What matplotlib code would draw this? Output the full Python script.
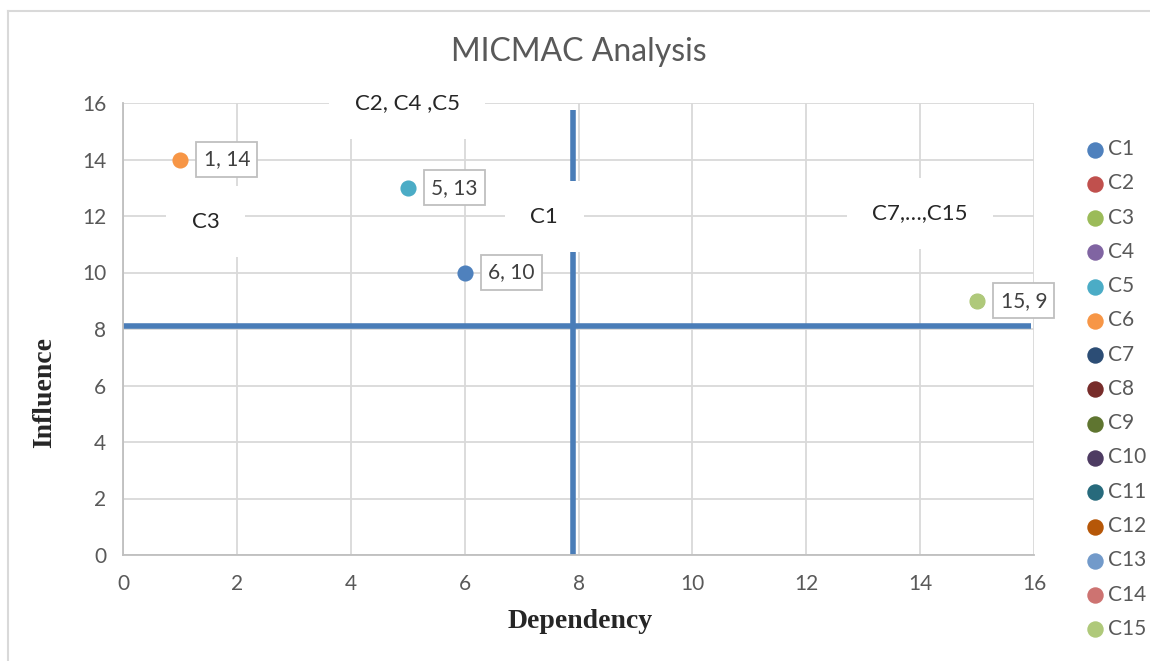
import matplotlib
matplotlib.use("Agg")
import matplotlib.pyplot as plt
from matplotlib.lines import Line2D

# ---- data ----
series = ["C1", "C2", "C3", "C4", "C5", "C6", "C7", "C8", "C9", "C10",
          "C11", "C12", "C13", "C14", "C15"]
dependency = [6, 5, 1, 5, 5, 1, 15, 15, 15, 15, 15, 15, 15, 15, 15]
influence = [10, 13, 14, 13, 13, 14, 9, 9, 9, 9, 9, 9, 9, 9, 9]
colors = ["#4F81BD", "#C0504D", "#9BBB59", "#8064A2", "#4BACC6", "#F79646",
          "#2C4D75", "#772C2A", "#5F7530", "#4D3B62", "#276A7C", "#B65708",
          "#729ACA", "#CD7371", "#AFC97A"]
x_ticks = [0, 2, 4, 6, 8, 10, 12, 14, 16]
y_ticks = [0, 2, 4, 6, 8, 10, 12, 14, 16]
x_split = 7.9
y_split = 8.1
x_split_end = 15.95
y_split_end = 15.75
quadrant_labels = ["C2, C4 ,C5", "C3", "C1", "C7,\u2026,C15"]
quadrant_pos = [(4.99, 16.0), (1.45, 11.8), (7.4, 11.97), (14.0, 12.1)]

W, H = 1150, 661
fig = plt.figure(figsize=(W / 100, H / 100), dpi=100)
fig.patch.set_facecolor("white")

# outer chart frame (top and left edges visible)
fig.add_artist(Line2D([8 / W, 1.0], [1 - 11 / H, 1 - 11 / H], color="#D9D9D9", lw=1.5,
                      transform=fig.transFigure))
fig.add_artist(Line2D([8 / W, 8 / W], [0, 1 - 11 / H], color="#D9D9D9", lw=1.5,
                      transform=fig.transFigure))

ax = fig.add_axes([123 / W, (H - 555) / H, (1034 - 123) / W, (555 - 103) / H])
ax.set_xlim(0, 16)
ax.set_ylim(0, 16)
ax.set_xticks(x_ticks)
ax.set_yticks(y_ticks)
ax.grid(True, color="#D9D9D9", lw=1.3, zorder=0)
ax.set_axisbelow(True)
for s in ["top", "right"]:
    ax.spines[s].set_visible(False)
for s in ["left", "bottom"]:
    ax.spines[s].set_color("#BFBFBF")
    ax.spines[s].set_linewidth(1.3)
ax.tick_params(axis="both", length=0, labelsize=15, labelcolor="#595959")
ax.tick_params(axis="x", pad=14)
ax.tick_params(axis="y", pad=12)
for lab in ax.get_xticklabels() + ax.get_yticklabels():
    lab.set_family("Lato")

# quadrant separators
ax.plot([0, x_split_end], [y_split, y_split], color="#4A7DB8", lw=4, zorder=2,
        solid_capstyle="butt")
ax.plot([x_split, x_split], [0, y_split_end], color="#4A7DB8", lw=4, zorder=2,
        solid_capstyle="butt")

# which series is drawn on top at each location
top_at = {}
for name, xv, yv in zip(series, dependency, influence):
    top_at[(xv, yv)] = name

# points
handles = []
for name, xv, yv, c in zip(series, dependency, influence, colors):
    size = 135 if top_at[(xv, yv)] == name else 110
    h = ax.scatter([xv], [yv], s=size, color=c, zorder=4, label=name, clip_on=False,
                   linewidths=0)
    handles.append(h)

# data labels (one per visible location)
for (xv, yv) in top_at:
    ax.annotate(f"{xv}, {yv}", (xv, yv), xytext=(17, 0), textcoords="offset points",
                ha="left", va="center", fontsize=15, color="#404040", family="Lato",
                zorder=6,
                bbox=dict(boxstyle="square,pad=0.35", fc="white", ec="#BFBFBF", lw=1.3))

# quadrant labels with white boxes
for txt, (qx, qy) in zip(quadrant_labels, quadrant_pos):
    ax.text(qx, qy, txt, ha="center", va="center", fontsize=16, color="#262626",
            family="Lato", zorder=5, clip_on=False,
            bbox=dict(boxstyle="square,pad=1.15", fc="white", ec="none"))

fig.text(0.5 * (123 + 1034) / W, 1 - 52 / H, "MICMAC Analysis", fontsize=23,
         color="#595959", family="Lato", ha="center", va="center")
fig.text(580 / W, 1 - 622 / H, "Dependency", fontsize=20, fontweight="bold",
         family="Liberation Serif", color="#262626", ha="center", va="center")
fig.text(45 / W, 1 - 393 / H, "Influence", fontsize=20, fontweight="bold",
         family="Liberation Serif", color="#262626", ha="center", va="center",
         rotation=90)

leg = fig.legend(handles=handles, loc="upper left", bbox_to_anchor=(1082 / W, 1 - 139 / H),
                 frameon=False, fontsize=15, labelspacing=0.685, handletextpad=0.05,
                 handlelength=1.2, borderaxespad=0, borderpad=0)
for h in leg.legend_handles:
    h.set_sizes([140])
for t in leg.get_texts():
    t.set_color("#595959")
    t.set_family("Lato")

fig.savefig("out.png", dpi=100, facecolor="white")
